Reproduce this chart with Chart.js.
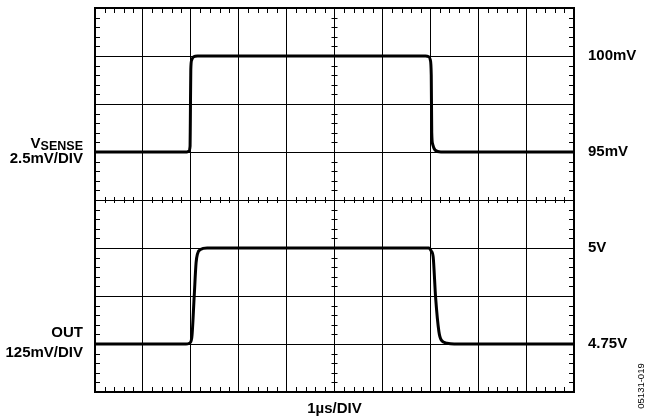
<!DOCTYPE html>
<html>
<head>
<meta charset="utf-8">
<script src="https://cdn.jsdelivr.net/npm/chart.js@4/dist/chart.umd.min.js"></script>
<style>
  html, body { margin: 0; padding: 0; background: #fff; }
  #wrap { width: 645px; height: 420px; position: relative; }
</style>
</head>
<body>
<div id="wrap"><canvas id="scopeChart"></canvas></div>
<script>
// time base, µs (1µs/DIV, 10 divisions)
const vsenseTime = [0, 1.92, 1.96, 1.985, 1.99, 2.0, 2.02, 2.06, 2.14,
  6.9, 6.97, 7.0, 7.02, 7.03, 7.05, 7.1, 7.22, 10];
const vsenseMv = [95, 95, 95.05, 95.3, 96.5, 99.3, 99.8, 99.96, 100,
  100, 99.96, 99.8, 99.0, 96.0, 95.4, 95.1, 95, 95];

const outTime = [0, 1.9, 1.97, 2.02, 2.07, 2.11, 2.14, 2.2, 2.34,
  6.97, 7.02, 7.06, 7.11, 7.18, 7.23, 7.35, 7.5, 10];
const outVolts = [4.75, 4.75, 4.752, 4.766, 4.872, 4.961, 4.985, 4.996, 5.0,
  5.0, 4.992, 4.977, 4.873, 4.782, 4.76, 4.752, 4.75, 4.75];

// channel settings: reference level sits on a grid division
const vsenseRef = { level: 95, div: 5, perDiv: 2.5 };
const outRef = { level: 4.75, div: 1, perDiv: 0.125 };

const rightLabels = [
  { div: 7, text: '100mV' },
  { div: 5, text: '95mV' },
  { div: 3, text: '5V' },
  { div: 1, text: '4.75V' },
];

const toDiv = (values, ref) => values.map(v => ref.div + (v - ref.level) / ref.perDiv);
const toPoints = (xs, ys) => xs.map((x, i) => ({ x, y: ys[i] }));

const FONT = '"Liberation Sans", Arial, sans-serif';

// frame, minor ticks and the text around the screen
const scopeDecor = {
  id: 'scopeDecor',
  beforeDatasetsDraw(chart) {
    const { ctx, chartArea: a, scales } = chart;
    const xs = scales.x, ys = scales.y;
    ctx.save();
    ctx.strokeStyle = '#000';
    ctx.lineWidth = 1;
    ctx.beginPath();
    for (let t = 0.2; t < 10; t += 0.2) {
      if (Math.abs(t - Math.round(t)) < 0.01) continue;
      const px = Math.round(xs.getPixelForValue(t)) + 0.5;
      ctx.moveTo(px, a.top); ctx.lineTo(px, a.top + 5);
      ctx.moveTo(px, a.bottom); ctx.lineTo(px, a.bottom - 5);
      const cy = ys.getPixelForValue(4);
      ctx.moveTo(px, cy - 3); ctx.lineTo(px, cy + 3);
    }
    for (let d = 0.2; d < 8; d += 0.2) {
      if (Math.abs(d - Math.round(d)) < 0.01) continue;
      const py = Math.round(ys.getPixelForValue(d)) + 0.5;
      ctx.moveTo(a.left, py); ctx.lineTo(a.left + 5, py);
      ctx.moveTo(a.right, py); ctx.lineTo(a.right - 5, py);
      const cx = xs.getPixelForValue(5);
      ctx.moveTo(cx - 3, py); ctx.lineTo(cx + 3, py);
    }
    ctx.stroke();
    ctx.lineWidth = 2;
    ctx.strokeRect(a.left, a.top, a.right - a.left, a.bottom - a.top);
    ctx.restore();
  },
  afterDraw(chart) {
    const { ctx, chartArea: a, scales } = chart;
    const ys = scales.y;
    ctx.save();
    ctx.fillStyle = '#000';
    ctx.font = 'bold 15px ' + FONT;
    ctx.textBaseline = 'middle';
    ctx.textAlign = 'left';
    rightLabels.forEach(l => ctx.fillText(l.text, a.right + 14, ys.getPixelForValue(l.div) - 0.5));

    ctx.textBaseline = 'alphabetic';
    ctx.textAlign = 'right';
    const lx = a.left - 12;
    const vy = ys.getPixelForValue(vsenseRef.div);
    ctx.font = 'bold 12.5px ' + FONT;
    const subW = ctx.measureText('SENSE').width;
    ctx.fillText('SENSE', lx, vy - 2.5);
    ctx.font = 'bold 15px ' + FONT;
    ctx.fillText('V', lx - subW, vy - 3.7);
    ctx.fillText('2.5mV/DIV', lx, vy + 11);

    const oy = ys.getPixelForValue(outRef.div);
    ctx.fillText('OUT', lx, oy - 7);
    ctx.fillText('125mV/DIV', lx, oy + 13);

    ctx.textAlign = 'center';
    ctx.fillText('1µs/DIV', (a.left + a.right) / 2, a.bottom + 21);

    ctx.font = '9.5px ' + FONT;
    ctx.translate(641, 386);
    ctx.rotate(-Math.PI / 2);
    ctx.textBaseline = 'middle';
    ctx.fillText('05131-019', 0, 0);
    ctx.restore();
  },
};

const traceStyle = {
  borderColor: '#000',
  borderWidth: 3,
  pointRadius: 0,
  fill: false,
  cubicInterpolationMode: 'monotone',
};

new Chart(document.getElementById('scopeChart').getContext('2d'), {
  type: 'line',
  data: {
    datasets: [
      { label: 'VSENSE', data: toPoints(vsenseTime, toDiv(vsenseMv, vsenseRef)), ...traceStyle },
      { label: 'OUT', data: toPoints(outTime, toDiv(outVolts, outRef)), ...traceStyle },
    ],
  },
  options: {
    responsive: true,
    maintainAspectRatio: false,
    animation: false,
    layout: { padding: { left: 95, right: 71, top: 8, bottom: 28 } },
    plugins: { legend: { display: false }, tooltip: { enabled: false } },
    scales: {
      x: {
        type: 'linear', min: 0, max: 10,
        ticks: { display: false, stepSize: 1 },
        grid: { color: '#000', lineWidth: 1, drawTicks: false },
        border: { display: false },
      },
      y: {
        type: 'linear', min: 0, max: 8,
        ticks: { display: false, stepSize: 1 },
        grid: { color: '#000', lineWidth: 1, drawTicks: false },
        border: { display: false },
      },
    },
  },
  plugins: [scopeDecor],
});
</script>
</body>
</html>
